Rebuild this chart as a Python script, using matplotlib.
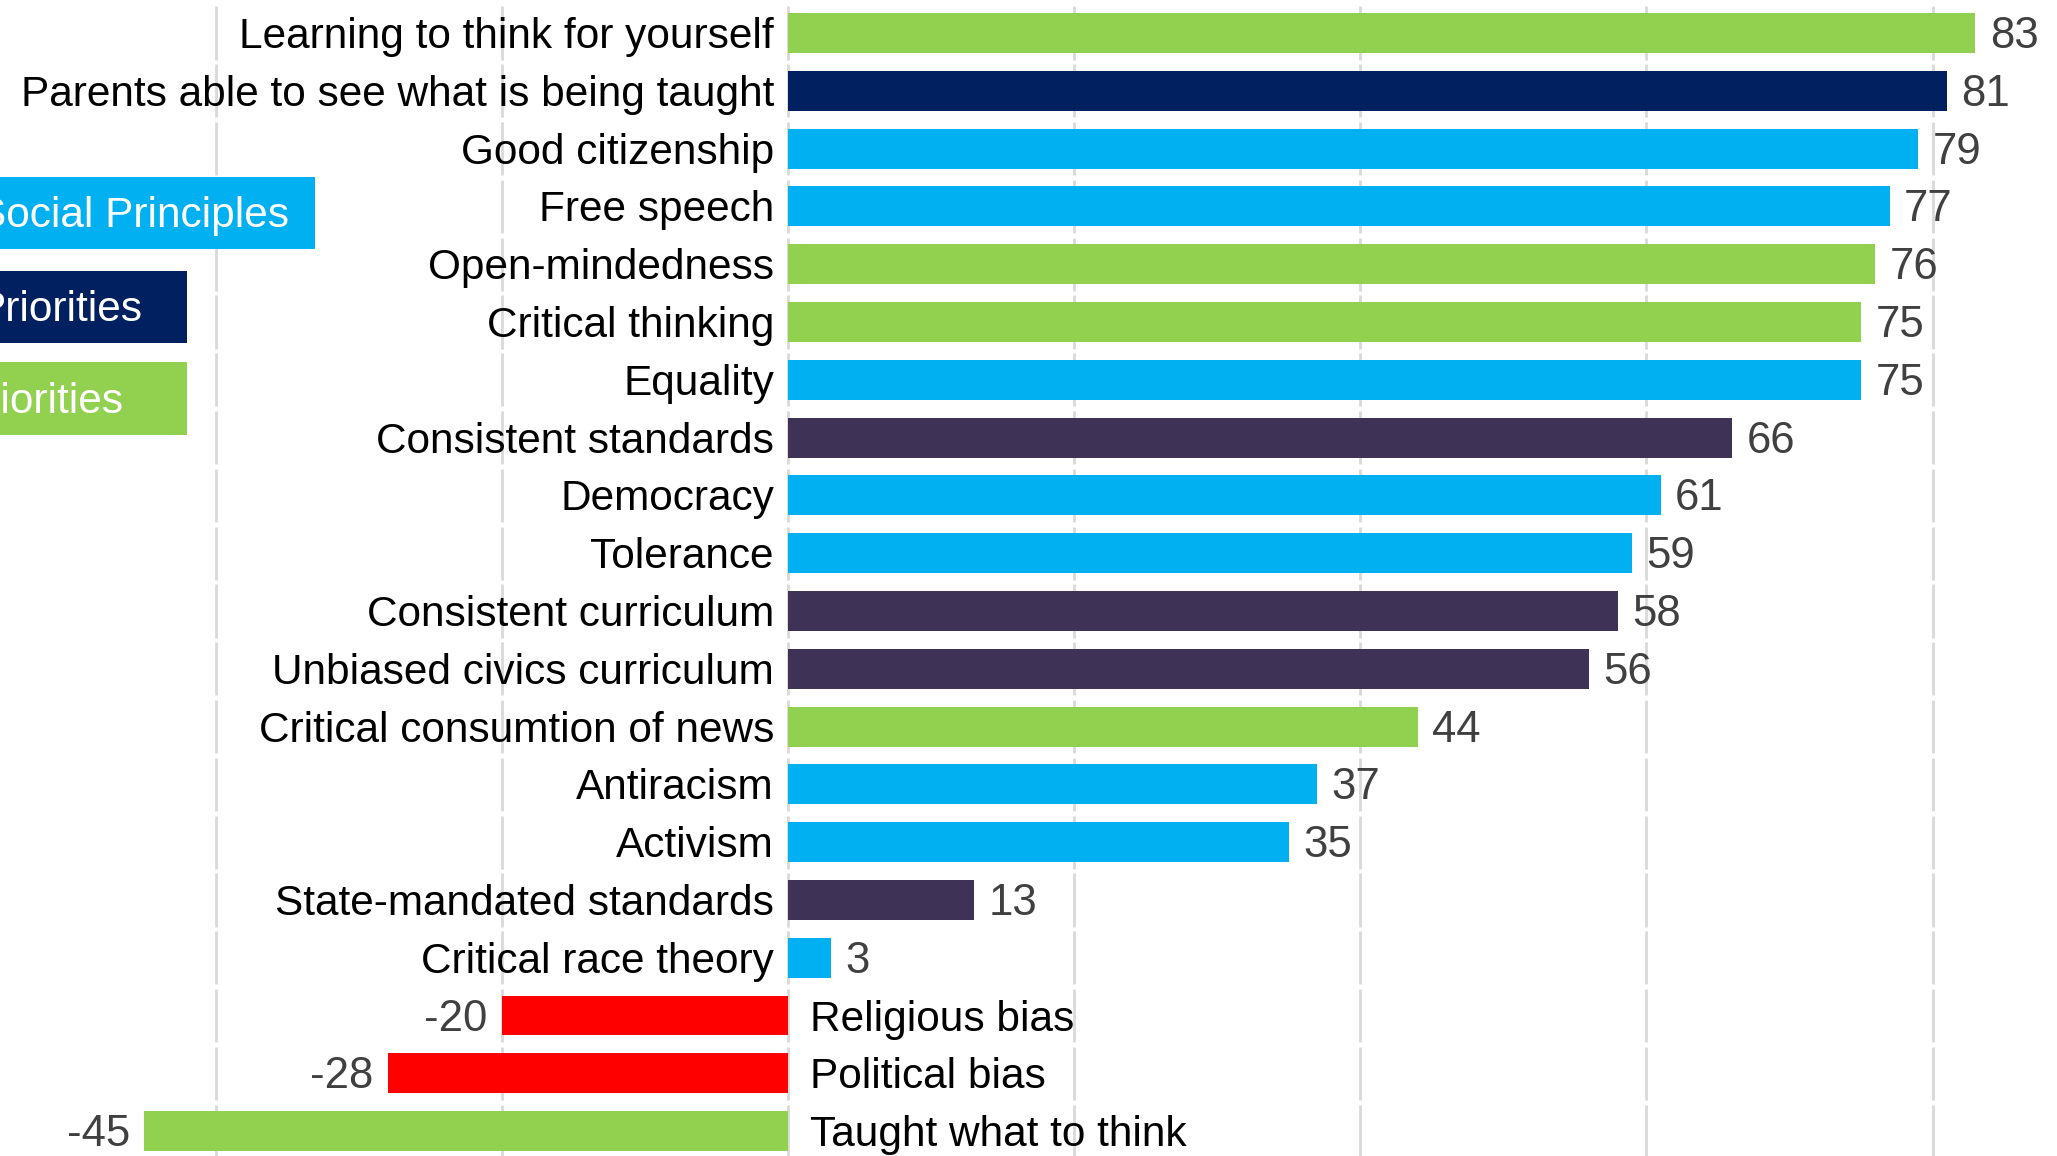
import matplotlib
matplotlib.use("Agg")
from matplotlib import pyplot as plt

plt.rcParams["font.family"] = ["Liberation Sans", "DejaVu Sans"]

GREEN = "#92D050"
NAVY = "#002060"
BLUE = "#00B0F0"
PURPLE = "#3E3356"
RED = "#FF0000"

categories = ["Learning to think for yourself",
              "Parents able to see what is being taught",
              "Good citizenship", "Free speech", "Open-mindedness",
              "Critical thinking", "Equality", "Consistent standards",
              "Democracy", "Tolerance", "Consistent curriculum",
              "Unbiased civics curriculum", "Critical consumtion of news",
              "Antiracism", "Activism", "State-mandated standards",
              "Critical race theory", "Religious bias", "Political bias",
              "Taught what to think"]
values = [83, 81, 79, 77, 76, 75, 75, 66, 61, 59, 58, 56, 44, 37, 35, 13,
          3, -20, -28, -45]
colors = [GREEN, NAVY, BLUE, BLUE, GREEN, GREEN, BLUE, PURPLE, BLUE, BLUE,
          PURPLE, PURPLE, GREEN, BLUE, BLUE, PURPLE, BLUE, RED, RED, GREEN]

legend_labels = ["Social Principles", "Priorities", "Priorities"]
legend_colors = [BLUE, NAVY, GREEN]

fig = plt.figure(figsize=(20.57, 11.56), dpi=100)
ax = fig.add_axes([0, 0, 1, 1])

n = len(categories)
ypos = list(range(n))

# gridlines broken at every row boundary
for gx in [-40, -20, 0, 20, 40, 60, 80]:
    for y in ypos:
        ax.plot([gx, gx], [y - 0.46, y + 0.46], color="#D9D9D9", lw=2,
                zorder=0, solid_capstyle="butt")

ax.barh(ypos, values, height=0.69, color=colors, zorder=2)

for y, v, name in zip(ypos, values, categories):
    if v >= 0:
        ax.text(-1.0, y + 0.07, name, ha="right", va="center", fontsize=30.5,
                color="black")
        ax.text(v + 1.0, y + 0.06, str(v), ha="left", va="center",
                fontsize=31.5, color="#404040")
    else:
        ax.text(1.5, y + 0.07, name, ha="left", va="center", fontsize=30.5,
                color="black")
        ax.text(v - 1.0, y + 0.06, str(v), ha="right", va="center",
                fontsize=31.5, color="#404040")

ax.set_xlim(-55.1, 88.7)
ax.set_ylim(19.43, -0.571)
ax.axis("off")

# category key boxes, partly running off the left edge
# (box right edge, box top, box bottom, text right edge) in figure fractions
key_right = [0.153, 0.091, 0.091]
key_top = [0.153, 0.234, 0.313]
key_bottom = [0.215, 0.297, 0.376]
key_text_right = [0.1403, 0.0695, 0.060]
for r, t, b, tr, lab, col in zip(key_right, key_top, key_bottom,
                                 key_text_right, legend_labels, legend_colors):
    fig.patches.append(plt.Rectangle((-0.01, 1 - b), r + 0.01, b - t,
                                     transform=fig.transFigure,
                                     facecolor=col, edgecolor="none"))
    fig.text(tr, 1 - (t + b) / 2 - 0.003, lab, ha="right", va="center",
             fontsize=30.5, color="white")

plt.savefig("out.png", dpi=100)
